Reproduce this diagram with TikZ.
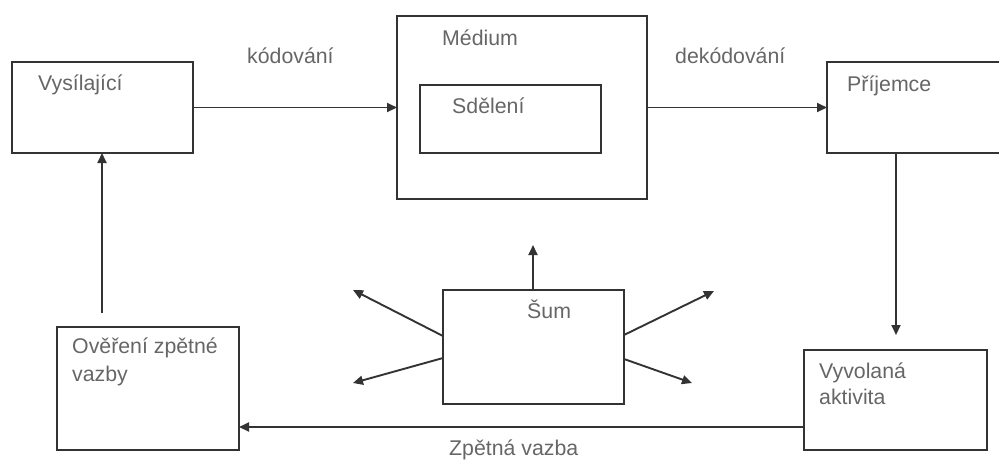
\documentclass[tikz,border=0pt]{standalone}
\usepackage{fontspec}
\setmainfont{Liberation Sans}
\usetikzlibrary{arrows.meta}
\definecolor{linegray}{HTML}{333333}
\definecolor{textgray}{HTML}{666666}
\tikzset{
  box/.style={draw=linegray, line width=1.9pt, rectangle, inner sep=0pt, outer sep=0pt},
  lbl/.style={text=textgray, font=\fontsize{21.3}{25}\selectfont, inner sep=0pt, anchor=base west},
  arr/.style={draw=linegray, line width=1.9pt, -{Triangle[length=10pt,width=9pt]}},
}
\begin{document}
\begin{tikzpicture}[x=1pt,y=-1pt]
\useasboundingbox (0,0) rectangle (999,459);

% boxes
\node[box, minimum width=181pt, minimum height=91pt]  (vys)  at (102.5,107.5) {};
\node[box, minimum width=250pt, minimum height=183pt] (med)  at (522,107.5) {};
\node[box, minimum width=181pt, minimum height=68pt]  (sde)  at (510.5,119) {};
\node[box, minimum width=176pt, minimum height=91pt]  (prij) at (915,107.5) {};
\node[box, minimum width=181pt, minimum height=114pt] (sum)  at (533.5,347) {};
\node[box, minimum width=182pt, minimum height=123pt] (over) at (148,388.5) {};
\node[box, minimum width=183pt, minimum height=100pt] (vyv)  at (895.5,400) {};

% labels
\node[lbl] (tvys)  at (38,90)   {Vysílající};
\node[lbl] (tmed)  at (442,45)  {Médium};
\node[lbl] (tsde)  at (452,113) {Sdělení};
\node[lbl] (tkod)  at (247,63)  {kódování};
\node[lbl] (tdek)  at (675,63)  {dekódování};
\node[lbl] (tprij) at (847,91)  {Příjemce};
\node[lbl] (tsum)  at (527,318) {Šum};
\node[lbl] (tov1)  at (72,353)  {Ověření zpětné};
\node[lbl] (tov2)  at (72,381)  {vazby};
\node[lbl] (tvy1)  at (819,378) {Vyvolaná};
\node[lbl] (tvy2)  at (819,404) {aktivita};
\node[lbl] (tzv)   at (449,455) {Zpětná vazba};

% free ends of connectors
\coordinate (pend) at (896,335);
\coordinate (ustart) at (102,313);
\coordinate (fb) at (0,427);
\coordinate (nup) at (533,245);
\coordinate (nul) at (353,290);
\coordinate (nll) at (353,383);
\coordinate (nur) at (714,291);
\coordinate (nlr) at (692,383);

% main flow
\path[arr] (vys) -- (med);
\path[arr] (med) -- (prij);
\path[arr] (prij.south -| pend) -- (pend);
\path[arr] (vyv.west |- fb) -- (over.east |- fb);
\path[arr] (ustart) -- (ustart |- vys.south);

% noise
\path[arr] (sum.north -| nup) -- (nup);
\path[arr] (sum.west |- 0,336) -- (nul);
\path[arr] (sum.west |- 0,358) -- (nll);
\path[arr] (sum.east |- 0,335) -- (nur);
\path[arr] (sum.east |- 0,359) -- (nlr);
\end{tikzpicture}
\end{document}
